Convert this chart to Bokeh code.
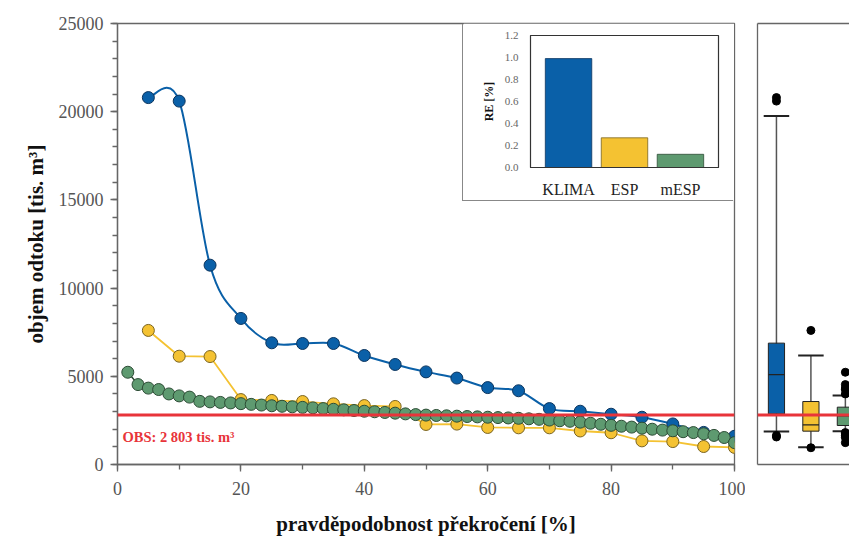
import numpy as np
from bokeh.plotting import figure
from bokeh.models import (Range1d, SingleIntervalTicker, FixedTicker, LinearAxis,
                          Span, Label, NumeralTickFormatter)
from bokeh.layouts import row
from bokeh.embed import file_html
from bokeh.resources import INLINE

FONT = "Liberation Serif"

# ---------------- data ----------------
prob5 = [5, 10, 15, 20, 25, 30, 35, 40, 45, 50, 55, 60, 65, 70, 75, 80, 85, 90, 95, 100]
klima = [20800, 20600, 11300, 8280, 6900, 6860, 6860, 6180, 5670, 5250,
         4900, 4360, 4180, 3170, 3020, 2850, 2680, 2300, 1820, 1600]
esp = [7600, 6140, 6120, 3680, 3630, 3570, 3440, 3340, 3290, 2270,
       2290, 2100, 2080, 2080, 1900, 1800, 1340, 1300, 1020, 970]

mesp_x = [1.67, 3.33, 5.0, 6.67, 8.33, 10.0, 11.67, 13.33, 15.0, 16.67,
          18.33, 20.0, 21.67, 23.33, 25.0, 26.67, 28.33, 30.0, 31.67, 33.33,
          35.0, 36.67, 38.33, 40.0, 41.67, 43.33, 45.0, 46.67, 48.33, 50.0,
          51.67, 53.33, 55.0, 56.67, 58.33, 60.0, 61.67, 63.33, 65.0, 66.67,
          68.33, 70.0, 71.67, 73.33, 75.0, 76.67, 78.33, 80.0, 81.67, 83.33,
          85.0, 86.67, 88.33, 90.0, 91.67, 93.33, 95.0, 96.67, 98.33, 100.0]
mesp = [5230, 4530, 4330, 4250, 4000, 3890, 3820, 3580, 3550, 3520,
        3490, 3450, 3410, 3370, 3330, 3300, 3270, 3240, 3210, 3170,
        3130, 3100, 3060, 3020, 2990, 2950, 2910, 2870, 2830, 2800,
        2780, 2760, 2740, 2720, 2700, 2680, 2660, 2640, 2620, 2590,
        2560, 2520, 2480, 2450, 2400, 2340, 2280, 2220, 2170, 2120,
        2060, 2000, 1950, 1910, 1860, 1810, 1740, 1650, 1530, 1240]

obs_value = 2803
obs_text = "OBS: 2 803 tis. m³"

# box plot statistics (KLIMA, ESP, mESP)
box_names = ["KLIMA", "ESP", "mESP"]
box_pos = [1, 2, 3]
box_q1 = [2870, 1890, 2210]
box_q3 = [6880, 3570, 3250]
box_med = [5100, 2250, 2750]
box_lo = [1870, 980, 1890]
box_hi = [19750, 6180, 3910]
out_pos = [1, 1, 1, 1, 2, 2, 3, 3, 3, 3, 3, 3, 3, 3, 3, 3]
out_val = [20800, 20600, 1650, 1560, 7600, 950,
           5230, 4530, 4330, 4250, 4000, 1810, 1740, 1650, 1530, 1240]

# inset: relative error
re_names = ["KLIMA", "ESP", "mESP"]
re_pos = [1, 2, 3]
re_vals = [0.99, 0.27, 0.12]
re_ticks = [0.0, 0.2, 0.4, 0.6, 0.8, 1.0, 1.2]

BLUE, BLUE_D = "#0a60a8", "#0b355f"
YEL, YEL_D = "#f4c232", "#7a6420"
GRN, GRN_D = "#5e9a70", "#2c4c35"
RED = "#e8343a"
FILLS = [BLUE, YEL, GRN]
EDGES = [BLUE_D, YEL_D, GRN_D]
AXC = "#666666"

# ---------------- main figure ----------------
p = figure(width=745, height=538, x_range=Range1d(0, 100), y_range=Range1d(0, 25000),
           output_backend="svg", toolbar_location=None,
           min_border_left=117, min_border_right=11, min_border_top=23, min_border_bottom=74)
p.grid.visible = False
p.outline_line_color = AXC
p.outline_line_width = 1.3
p.background_fill_color = "white"
p.border_fill_color = "white"

p.xaxis.ticker = SingleIntervalTicker(interval=20, num_minor_ticks=2)
p.yaxis.ticker = SingleIntervalTicker(interval=5000, num_minor_ticks=5)
for ax in (p.xaxis[0], p.yaxis[0]):
    ax.axis_line_color = AXC
    ax.axis_line_width = 1.3
    ax.major_tick_line_color = AXC
    ax.minor_tick_line_color = AXC
    ax.major_tick_line_width = 1.3
    ax.minor_tick_line_width = 1.3
    ax.major_tick_in = 0
    ax.major_tick_out = 7
    ax.minor_tick_in = 0
    ax.minor_tick_out = 5
    ax.major_label_text_font = FONT
    ax.major_label_text_font_size = "18px"
    ax.major_label_text_color = "#555555"
    ax.axis_label_text_font = FONT
    ax.axis_label_text_font_style = "bold"
    ax.axis_label_text_font_size = "21px"
    ax.axis_label_text_color = "#111111"
p.xaxis.axis_label = "pravděpodobnost překročení [%]"
p.yaxis.axis_label = "objem odtoku [tis. m³]"
p.xaxis.major_label_standoff = 10
p.xaxis.axis_label_standoff = 14
p.yaxis.major_label_standoff = 7
p.yaxis.axis_label_standoff = 8

# KLIMA: smooth (Catmull-Rom as Bezier segments) through the data points
xs = np.array(prob5, dtype=float)
ys = np.array(klima, dtype=float)
px = np.concatenate([[xs[0]], xs[:-2]])
py = np.concatenate([[ys[0]], ys[:-2]])
nx = np.concatenate([xs[2:], [xs[-1]]])
ny = np.concatenate([ys[2:], [ys[-1]]])
p.bezier(x0=xs[:-1], y0=ys[:-1], x1=xs[1:], y1=ys[1:],
         cx0=xs[:-1] + (xs[1:] - px) / 6, cy0=ys[:-1] + (ys[1:] - py) / 6,
         cx1=xs[1:] - (nx - xs[:-1]) / 6, cy1=ys[1:] - (ny - ys[:-1]) / 6,
         line_color=BLUE, line_width=2)
p.scatter(prob5, klima, size=12, fill_color=BLUE, line_color=BLUE_D, line_width=1)

p.line(prob5, esp, line_color=YEL, line_width=1.8)
p.scatter(prob5, esp, size=12, fill_color=YEL, line_color=YEL_D, line_width=1)

p.line(mesp_x, mesp, line_color=GRN_D, line_width=1.5)
p.scatter(mesp_x, mesp, size=12, fill_color=GRN, line_color=GRN_D, line_width=1)

p.add_layout(Span(location=obs_value, dimension="width", line_color=RED, line_width=3))
p.add_layout(Label(x=0.8, y=obs_value, y_offset=-30, text=obs_text,
                   text_font=FONT, text_font_style="bold", text_font_size="14.5px",
                   text_color=RED))

# ---------------- box panel ----------------
pb = figure(width=104, height=538, x_range=Range1d(0.45, 3.12), y_range=p.y_range,
            output_backend="svg", toolbar_location=None,
            x_axis_location=None, y_axis_location=None,
            min_border_left=12, min_border_right=0, min_border_top=23, min_border_bottom=74)
pb.grid.visible = False
pb.outline_line_color = None
pb.background_fill_color = "white"
pb.border_fill_color = "white"
for side in ("left", "above", "below"):
    ax = LinearAxis(ticker=FixedTicker(ticks=[]), axis_line_color=AXC, axis_line_width=1.3,
                    major_tick_line_color=None, minor_tick_line_color=None,
                    major_label_text_font_size="0px", major_label_standoff=0)
    pb.add_layout(ax, side)

pb.segment(x0=box_pos, y0=box_lo, x1=box_pos, y1=box_hi, line_color="#555555", line_width=1.5)
pb.segment(x0=[b - 0.37 for b in box_pos], y0=box_lo, x1=[b + 0.37 for b in box_pos], y1=box_lo,
           line_color="#222222", line_width=2)
pb.segment(x0=[b - 0.37 for b in box_pos], y0=box_hi, x1=[b + 0.37 for b in box_pos], y1=box_hi,
           line_color="#222222", line_width=2)
pb.vbar(x=box_pos, bottom=box_q1, top=box_q3, width=0.47, fill_color=FILLS,
        line_color="#222222", line_width=1)
pb.segment(x0=[b - 0.235 for b in box_pos], y0=box_med, x1=[b + 0.235 for b in box_pos], y1=box_med,
           line_color="#222222", line_width=1.2)
pb.scatter(out_pos, out_val, size=8, fill_color="black", line_color="black")
pb.add_layout(Span(location=obs_value, dimension="width", line_color=RED, line_width=3))

# ---------------- inset (separate root, absolutely placed) ----------------
ins = figure(width=271, height=177, x_range=Range1d(0.32, 3.68), y_range=Range1d(0, 1.2),
             output_backend="svg", toolbar_location=None,
             min_border_left=67, min_border_right=16, min_border_top=12, min_border_bottom=32,
             styles={"position": "absolute", "left": "463px", "top": "23px",
                     "box-shadow": "-1px 1px 0 #888888", "z-index": "5"})
ins.grid.visible = False
ins.outline_line_color = "#333333"
ins.outline_line_width = 1.2
ins.background_fill_color = "white"
ins.border_fill_color = "white"
ins.vbar(x=re_pos, top=re_vals, width=0.83, fill_color=FILLS, line_color=EDGES, line_width=0.8)
ins.xaxis.ticker = FixedTicker(ticks=re_pos)
ins.xaxis.major_label_overrides = {pos: name for pos, name in zip(re_pos, re_names)}
ins.yaxis.ticker = FixedTicker(ticks=re_ticks)
ins.yaxis.formatter = NumeralTickFormatter(format="0.0")
for ax in (ins.xaxis[0], ins.yaxis[0]):
    ax.axis_line_color = "#333333"
    ax.major_tick_line_color = None
    ax.minor_tick_line_color = None
    ax.major_label_text_font = FONT
ins.xaxis.major_label_text_font_size = "16px"
ins.xaxis.major_label_text_color = "#222222"
ins.xaxis.major_label_standoff = 7
ins.yaxis.major_label_text_font_size = "11px"
ins.yaxis.major_label_text_color = "#666666"
ins.yaxis.major_label_standoff = 6
ins.yaxis.axis_label = "RE [%]"
ins.yaxis.axis_label_text_font = FONT
ins.yaxis.axis_label_text_font_style = "bold"
ins.yaxis.axis_label_text_font_size = "12px"
ins.yaxis.axis_label_text_color = "#111111"
ins.yaxis.axis_label_standoff = 6

layout = row(p, pb)
open("out.html", "w").write(file_html([layout, ins], INLINE))
